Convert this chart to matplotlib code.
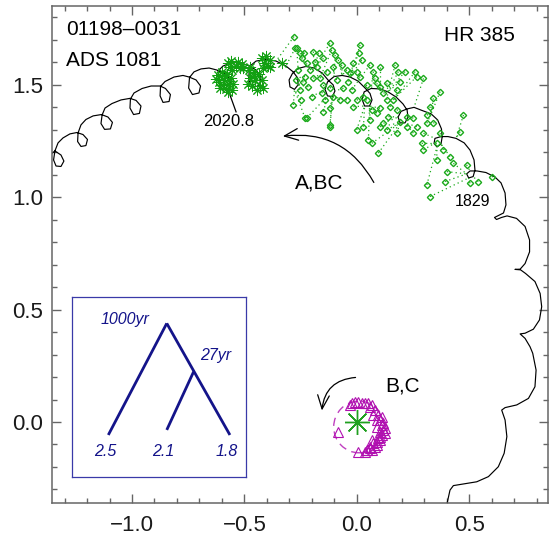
import numpy as np
import matplotlib
matplotlib.use('Agg')
import matplotlib.pyplot as plt
from matplotlib.patches import Ellipse, FancyArrowPatch
from matplotlib.collections import LineCollection
from matplotlib.ticker import MultipleLocator

plt.rcParams['font.family'] = ['Liberation Sans', 'DejaVu Sans']

# outer orbit A,BC with the 27-yr wobble (arcsec)
orbit = np.array([
    (-1.392, 1.166), (-1.343, 1.206), (-1.316, 1.188), (-1.303, 1.161), (-1.316, 1.137),
    (-1.338, 1.139), (-1.349, 1.166), (-1.343, 1.206), (-1.329, 1.242), (-1.307, 1.264),
    (-1.276, 1.282), (-1.245, 1.288), (-1.218, 1.279), (-1.198, 1.257), (-1.205, 1.230),
    (-1.227, 1.226), (-1.242, 1.248), (-1.240, 1.286), (-1.227, 1.322), (-1.205, 1.346),
    (-1.173, 1.362), (-1.136, 1.368), (-1.107, 1.357), (-1.087, 1.333), (-1.096, 1.304),
    (-1.122, 1.302), (-1.138, 1.328), (-1.133, 1.366), (-1.120, 1.397), (-1.089, 1.417),
    (-1.049, 1.433), (-1.009, 1.440), (-0.982, 1.431), (-0.960, 1.406), (-0.967, 1.373),
    (-0.993, 1.368), (-1.009, 1.397), (-1.007, 1.437), (-0.991, 1.464), (-0.955, 1.484),
    (-0.915, 1.495), (-0.875, 1.495), (-0.851, 1.484), (-0.829, 1.457), (-0.835, 1.426),
    (-0.862, 1.422), (-0.875, 1.451), (-0.873, 1.493), (-0.853, 1.515), (-0.813, 1.535),
    (-0.773, 1.542), (-0.746, 1.535), (-0.715, 1.522), (-0.695, 1.495), (-0.702, 1.464),
    (-0.731, 1.457), (-0.748, 1.486), (-0.744, 1.533), (-0.724, 1.558), (-0.693, 1.571),
    (-0.657, 1.575), (-0.622, 1.566), (-0.586, 1.549), (-0.559, 1.522), (-0.564, 1.486),
    (-0.595, 1.477), (-0.615, 1.509), (-0.617, 1.562), (-0.595, 1.584), (-0.559, 1.598),
    (-0.519, 1.600), (-0.479, 1.584), (-0.448, 1.566), (-0.426, 1.535), (-0.433, 1.497),
    (-0.464, 1.489), (-0.481, 1.522), (-0.477, 1.582), (-0.448, 1.606), (-0.404, 1.613),
    (-0.359, 1.606), (-0.315, 1.584), (-0.283, 1.558), (-0.263, 1.531), (-0.261, 1.500),
    (-0.277, 1.480), (-0.297, 1.491), (-0.301, 1.522), (-0.286, 1.551), (-0.261, 1.573),
    (-0.226, 1.582), (-0.190, 1.575), (-0.154, 1.553), (-0.128, 1.522), (-0.105, 1.500),
    (-0.097, 1.473), (-0.108, 1.448), (-0.130, 1.451), (-0.141, 1.480), (-0.130, 1.513),
    (-0.101, 1.537), (-0.065, 1.542), (-0.030, 1.535), (0.006, 1.517), (0.037, 1.486),
    (0.059, 1.462), (0.068, 1.433), (0.057, 1.406), (0.035, 1.406), (0.024, 1.435),
    (0.033, 1.469), (0.064, 1.484), (0.104, 1.482), (0.139, 1.469), (0.175, 1.446),
    (0.206, 1.415), (0.224, 1.388), (0.228, 1.357), (0.215, 1.331), (0.193, 1.331),
    (0.184, 1.357), (0.197, 1.382), (0.224, 1.393), (0.255, 1.400), (0.291, 1.386),
    (0.331, 1.371), (0.360, 1.344), (0.377, 1.304), (0.380, 1.268), (0.375, 1.237),
    (0.357, 1.224), (0.344, 1.239), (0.348, 1.262), (0.375, 1.270), (0.406, 1.270),
    (0.442, 1.262), (0.478, 1.242), (0.504, 1.210), (0.522, 1.166), (0.526, 1.121),
    (0.518, 1.092), (0.498, 1.086), (0.489, 1.104), (0.504, 1.117), (0.535, 1.117),
    (0.575, 1.110), (0.615, 1.090), (0.642, 1.064), (0.660, 1.019), (0.664, 0.966),
    (0.653, 0.930), (0.631, 0.919), (0.613, 0.910), (0.622, 0.901), (0.644, 0.910),
    (0.669, 0.917), (0.711, 0.906), (0.749, 0.870), (0.769, 0.810), (0.769, 0.757),
    (0.749, 0.705), (0.727, 0.680), (0.704, 0.679), (0.729, 0.677), (0.751, 0.661),
    (0.793, 0.625), (0.816, 0.572), (0.823, 0.513), (0.813, 0.454), (0.786, 0.413),
    (0.749, 0.395), (0.727, 0.392), (0.749, 0.372), (0.771, 0.335), (0.783, 0.306),
    (0.798, 0.231), (0.793, 0.157), (0.764, 0.105), (0.712, 0.076), (0.660, 0.064),
    (0.645, 0.053), (0.660, 0.009), (0.668, -0.065), (0.656, -0.139), (0.630, -0.199),
    (0.586, -0.243), (0.534, -0.266), (0.474, -0.276), (0.430, -0.283), (0.415, -0.303),
    (0.403, -0.357), (0.397, -0.401),
])

# visual micrometer measures (diamonds)
visual = np.array([
    (-0.279, 1.715), (-0.274, 1.663), (-0.252, 1.641), (-0.234, 1.644), (-0.245, 1.618),
    (-0.222, 1.596), (-0.260, 1.567), (-0.270, 1.522), (-0.237, 1.515), (-0.215, 1.492),
    (-0.200, 1.448), (-0.282, 1.411), (-0.249, 1.433), (-0.230, 1.352), (-0.193, 1.648),
    (-0.170, 1.641), (-0.185, 1.604), (-0.148, 1.618), (-0.119, 1.685), (-0.111, 1.656),
    (-0.096, 1.633), (-0.082, 1.611), (-0.104, 1.581), (-0.133, 1.559), (-0.163, 1.529),
    (-0.156, 1.463), (-0.141, 1.433), (-0.119, 1.396), (-0.104, 1.448), (-0.148, 1.381),
    (-0.119, 1.314), (-0.067, 1.589), (-0.044, 1.567), (-0.015, 1.596), (0.015, 1.678),
    (0.008, 1.641), (0.022, 1.611), (-0.037, 1.515), (-0.022, 1.478), (0.000, 1.433),
    (0.015, 1.537), (0.045, 1.500), (0.059, 1.589), (0.074, 1.559), (0.104, 1.581),
    (0.082, 1.529), (0.104, 1.492), (0.119, 1.463), (0.134, 1.433), (0.148, 1.403),
    (0.171, 1.589), (0.185, 1.559), (0.215, 1.559), (0.260, 1.559), (0.267, 1.537),
    (0.297, 1.529), (0.193, 1.515), (0.178, 1.478), (0.163, 1.433), (0.141, 1.359),
    (0.119, 1.329), (0.089, 1.374), (0.059, 1.344), (0.030, 1.314), (0.000, 1.300),
    (0.052, 1.255), (0.067, 1.240), (0.096, 1.196), (0.104, 1.314), (0.134, 1.300),
    (0.178, 1.285), (0.223, 1.359), (0.252, 1.352), (0.267, 1.314), (0.252, 1.285),
    (0.297, 1.285), (0.289, 1.240), (0.297, 1.211), (0.371, 1.470), (0.341, 1.440),
    (0.326, 1.403), (0.312, 1.366), (0.341, 1.329), (0.371, 1.285), (0.356, 1.240),
    (0.386, 1.211), (0.415, 1.181), (0.460, 1.292), (0.475, 1.366), (0.430, 1.151),
    (0.401, 1.114), (0.393, 1.070), (0.356, 1.166), (0.312, 1.055), (0.326, 1.003),
    (0.489, 1.144), (0.504, 1.062), (0.541, 1.070), (0.601, 1.092), (0.312, 1.329),
    (0.134, 1.507), (0.089, 1.507), (0.030, 1.448), (-0.015, 1.403), (-0.044, 1.433),
    (-0.074, 1.433), (-0.030, 1.552), (0.000, 1.559), (-0.178, 1.581), (-0.208, 1.567),
    (-0.252, 1.478), (-0.230, 1.537), (-0.193, 1.529), (-0.148, 1.500), (-0.119, 1.485),
    (-0.089, 1.522), (-0.059, 1.485), (0.045, 1.433), (0.067, 1.389), (0.104, 1.396),
    (0.178, 1.389), (0.193, 1.337), (0.223, 1.314), (-0.267, 1.663), (-0.223, 1.352),
    (-0.119, 1.322),
])

# speckle measures (asterisks)
speckle = np.array([
    (-0.617, 1.544), (-0.599, 1.558), (-0.577, 1.549), (-0.559, 1.531), (-0.613, 1.513),
    (-0.591, 1.522), (-0.568, 1.504), (-0.608, 1.486), (-0.582, 1.482), (-0.555, 1.477),
    (-0.595, 1.500), (-0.573, 1.469), (-0.626, 1.526), (-0.551, 1.504), (-0.586, 1.540),
    (-0.573, 1.598), (-0.559, 1.607), (-0.528, 1.602), (-0.510, 1.593), (-0.564, 1.580),
    (-0.537, 1.584), (-0.519, 1.575), (-0.555, 1.566), (-0.506, 1.575), (-0.475, 1.580),
    (-0.479, 1.566), (-0.457, 1.558), (-0.435, 1.549), (-0.421, 1.522), (-0.475, 1.531),
    (-0.453, 1.522), (-0.430, 1.495), (-0.466, 1.495), (-0.444, 1.477), (-0.484, 1.504),
    (-0.417, 1.486), (-0.457, 1.540), (-0.421, 1.620), (-0.404, 1.629), (-0.386, 1.611),
    (-0.413, 1.598), (-0.395, 1.584), (-0.417, 1.575), (-0.386, 1.580), (-0.332, 1.598),
])

# inner pair B,C (triangles) and its orbit
bc_pts = np.array([
    (-0.030, 0.076), (-0.008, 0.091), (0.007, 0.091), (0.037, 0.083), (0.052, 0.083),
    (0.067, 0.076), (0.081, 0.053), (0.096, 0.031), (0.104, 0.009), (0.111, -0.013),
    (0.118, -0.035), (0.126, -0.050), (0.111, -0.058), (0.096, -0.072), (0.089, -0.087),
    (0.074, -0.095), (0.059, -0.117), (0.047, -0.124), (0.007, -0.132), (-0.082, -0.043),
    (0.089, -0.021), (0.104, -0.043), (0.081, -0.110), (0.067, -0.080), (0.089, 0.009),
    (0.111, 0.024), (0.118, -0.006), (0.126, -0.028), (0.074, 0.031), (0.059, 0.068),
    (0.044, -0.124), (0.067, -0.124), (0.037, -0.132), (0.104, -0.080), (0.089, -0.102),
    (0.022, 0.086), (-0.022, 0.083), (0.059, -0.110), (0.104, -0.065),
])
bc_center = (0.010, -0.022)
bc_size = (0.225, 0.230)

# hierarchy sketch for the inset
tree_nodes = {'top': (0.546, 0.852), 'mid': (0.700, 0.584),
              'A': (0.211, 0.233), 'B': (0.546, 0.261), 'C': (0.908, 0.233)}
tree_links = [('top', 'A'), ('top', 'C'), ('mid', 'B')]
leaf_mass = ['2.5', '2.1', '1.8']
node_periods = ['1000yr', '27yr']

green = '#1aaa1a'
magenta = '#b010b0'
navy = '#14148a'

fig = plt.figure(figsize=(5.56, 5.40), dpi=100)
ax = fig.add_axes([0.0935, 0.0691, 0.8921, 0.9198])

ax.plot(orbit[:, 0], orbit[:, 1], color='black', lw=0.85, zorder=2)

# residual lines from each visual measure to the closest point of the orbit
d2 = (orbit[None, :, 0] - visual[:, None, 0])**2 + (orbit[None, :, 1] - visual[:, None, 1])**2
near = orbit[np.argmin(d2, axis=1)]
segs = [[tuple(p), tuple(q)] for p, q in zip(visual, near)]
ax.add_collection(LineCollection(segs, colors=green, linewidths=0.9,
                                 linestyles=[(0, (1, 2.5))], zorder=3))
ax.plot(visual[:, 0], visual[:, 1], 'D', ms=3.2, mfc='none', mec=green, mew=1.0, zorder=4)
ax.plot(speckle[:, 0], speckle[:, 1], ls='none', marker=(8, 2, 0), ms=8,
        mec='#12a012', mew=0.7, zorder=5)

ax.add_patch(Ellipse(bc_center, bc_size[0], bc_size[1], fill=False, ec='#c040c0',
                     lw=1.0, ls=(0, (6, 4)), zorder=3))
ax.plot(bc_pts[:, 0], bc_pts[:, 1], '^', ms=7, mfc='none', mec=magenta, mew=0.8, zorder=4)
ax.plot([0], [0], ls='none', marker=(8, 2, 0), ms=18, mec='#20a020', mew=1.0, zorder=5)

# arrows giving the sense of motion
ax.add_patch(FancyArrowPatch((0.082, 1.055), (-0.341, 1.270),
                             connectionstyle='arc3,rad=0.35',
                             arrowstyle='->,head_length=0.7,head_width=0.3',
                             mutation_scale=14, lw=0.9, color='black'))
ax.add_patch(FancyArrowPatch((0.007, 0.199), (-0.156, 0.039),
                             connectionstyle='arc3,rad=0.45',
                             arrowstyle='->,head_length=0.7,head_width=0.3',
                             mutation_scale=14, lw=0.9, color='black'))

ax.plot([-0.564, -0.537], [1.455, 1.380], color='black', lw=0.9)
ax.text(-0.568, 1.336, '2020.8', fontsize=12, ha='center', va='center')
ax.text(0.515, 0.983, '1829', fontsize=11.5, ha='center', va='center')
ax.text(-0.168, 1.062, 'A,BC', fontsize=15, ha='center', va='center')
ax.text(0.204, 0.162, 'B,C', fontsize=15, ha='center', va='center')
ax.text(-1.293, 1.748, '01198\u20130031', fontsize=15, ha='left', va='center')
ax.text(-1.293, 1.607, 'ADS 1081', fontsize=15, ha='left', va='center')
ax.text(0.705, 1.720, 'HR 385', fontsize=15, ha='right', va='center')

ax.set_xlim(-1.356, 0.851)
ax.set_ylim(-0.359, 1.851)
ax.set_xticks([-1.0, -0.5, 0.0, 0.5])
ax.set_yticks([0.0, 0.5, 1.0, 1.5])
ax.xaxis.set_minor_locator(MultipleLocator(0.1))
ax.yaxis.set_minor_locator(MultipleLocator(0.1))
ax.tick_params(which='both', direction='in', top=True, right=True,
               color='#666666', width=1.0, labelcolor='#1a1a1a', labelsize=16)
ax.tick_params(which='major', length=6.7)
ax.tick_params(which='minor', length=3.8)
ax.tick_params(axis='x', pad=9)
ax.tick_params(axis='y', pad=6.5)
for s in ax.spines.values():
    s.set_color('#666666')
    s.set_linewidth(1.1)

# inset with the hierarchy
ins = fig.add_axes([0.1286, 0.1167, 0.3138, 0.3339])
ins.set_xlim(0, 1)
ins.set_ylim(0, 1)
ins.set_xticks([])
ins.set_yticks([])
for s in ins.spines.values():
    s.set_color('#3a3aa8')
    s.set_linewidth(0.9)
for a, b in tree_links:
    (x0, y0), (x1, y1) = tree_nodes[a], tree_nodes[b]
    ins.plot([x0, x1], [y0, y1], color=navy, lw=2.0, solid_capstyle='butt')
for key, lab in zip(['A', 'B', 'C'], leaf_mass):
    ins.text(tree_nodes[key][0] - 0.02, 0.140, lab, color=navy, fontsize=11.5,
             style='italic', ha='center', va='center')
ins.text(0.307, 0.876, node_periods[0], color=navy, fontsize=11.5, style='italic',
         ha='center', va='center')
ins.text(0.828, 0.671, node_periods[1], color=navy, fontsize=11.5, style='italic',
         ha='center', va='center')

fig.savefig('out.png', dpi=100)
